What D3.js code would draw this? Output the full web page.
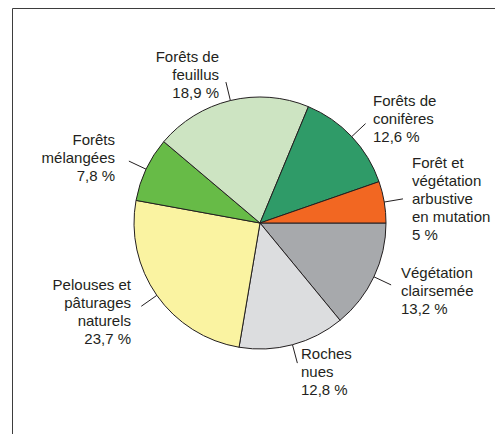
<!DOCTYPE html>
<html>
<head>
<meta charset="utf-8">
<script src="https://cdn.jsdelivr.net/npm/d3@7"></script>
<style>
  body { margin: 0; background: #fff; }
  text { font-family: "Liberation Sans", Arial, sans-serif; font-size: 15px; fill: #231f20; }
</style>
</head>
<body>
<div id="chart"></div>
<script>
// data, clockwise from 3 o'clock
var categories = [
    ['Végétation', 'clairsemée'],
    ['Roches', 'nues'],
    ['Pelouses et', 'pâturages', 'naturels'],
    ['Forêts', 'mélangées'],
    ['Forêts de', 'feuillus'],
    ['Forêts de', 'conifères'],
    ['Forêt et', 'végétation', 'arbustive', 'en mutation']
];
var values = [13.2, 12.8, 23.7, 7.8, 18.9, 12.6, 5];
var colors = ['#a7a9ac', '#dcdddf', '#faf3a1', '#67bb47', '#cde4c2', '#2f9b68', '#f26722'];

// label anchors (layout)
var labelPos = [
    { x: 401, y: 278, anchor: 'start' },
    { x: 301, y: 359, anchor: 'start' },
    { x: 131, y: 290, anchor: 'end' },
    { x: 115, y: 145, anchor: 'end' },
    { x: 219, y: 62, anchor: 'end' },
    { x: 373, y: 106, anchor: 'start' },
    { x: 412, y: 168, anchor: 'start' }
];

var svgWidth = 495;
var svgHeight = 434;
var cx = 260, cy = 223, radius = 126;
var lineHeight = 18;

var fr = d3.formatLocale({ decimal: ',', thousands: ' ', grouping: [3], currency: ['', ' €'] });
var fmt = fr.format('.1~f');

var svg = d3.select('#chart')
    .append('svg')
    .attr('width', svgWidth)
    .attr('height', svgHeight);

// frame
svg.append('path')
    .attr('d', 'M12.5,434 V8.5 H495')
    .attr('fill', 'none')
    .attr('stroke', '#3d3d3d')
    .attr('stroke-width', 1);

var pie = d3.pie()
    .sort(null)
    .startAngle(Math.PI / 2)
    .endAngle(Math.PI / 2 + 2 * Math.PI);

var arcs = pie(values);

var arc = d3.arc()
    .innerRadius(0)
    .outerRadius(radius);

var g = svg.append('g')
    .attr('transform', `translate(${cx}, ${cy})`);

g.selectAll('path.slice')
    .data(arcs)
    .enter()
    .append('path')
    .attr('class', 'slice')
    .attr('d', arc)
    .attr('fill', (d, i) => colors[i])
    .attr('stroke', '#231f20')
    .attr('stroke-width', 1)
    .attr('stroke-linejoin', 'round');

// leader lines
function polar(a, r) {
    return [Math.sin(a) * r, -Math.cos(a) * r];
}
g.selectAll('line.leader')
    .data(arcs)
    .enter()
    .append('line')
    .attr('class', 'leader')
    .each(function(d) {
        var a = (d.startAngle + d.endAngle) / 2;
        var p0 = polar(a, radius);
        var p1 = polar(a, radius + 19);
        d3.select(this)
            .attr('x1', p0[0]).attr('y1', p0[1])
            .attr('x2', p1[0]).attr('y2', p1[1]);
    })
    .attr('stroke', '#231f20')
    .attr('stroke-width', 1);

// labels
var labels = svg.selectAll('text.label')
    .data(categories)
    .enter()
    .append('text')
    .attr('class', 'label')
    .attr('text-anchor', (d, i) => labelPos[i].anchor);

labels.each(function(lines, i) {
    var t = d3.select(this);
    var all = lines.concat([fmt(values[i]) + ' %']);
    all.forEach(function(s, k) {
        t.append('tspan')
            .attr('x', labelPos[i].x)
            .attr('y', labelPos[i].y + k * lineHeight)
            .text(s);
    });
});
</script>
</body>
</html>
